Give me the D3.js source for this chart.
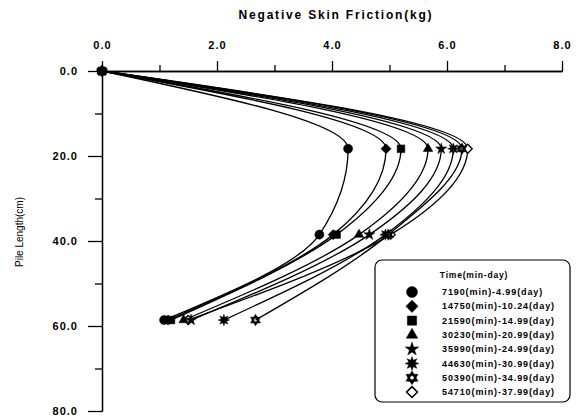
<!DOCTYPE html>
<html>
<head>
<meta charset="utf-8">
<script src="https://cdn.jsdelivr.net/npm/d3@7"></script>
<style>
	body { margin: 0; background: #fff; }
	.axis path, .axis line { stroke: #000; stroke-width: 1.3px; }
	.axis text { font-family: 'Liberation Sans', Arial, sans-serif; font-weight: bold; font-size: 11px; letter-spacing: 1px; fill: #000; }
</style>
</head>
<body>
<div class="chart"></div>
<script>
// Pile depth (cm) where friction was measured
var depths = [0, 18.3, 38.5, 58.6];

// Negative skin friction (kg) at each depth, one array per elapsed time
var f7190 = [0, 4.28, 3.78, 1.08];
var f14750 = [0, 4.94, 4.02, 1.15];
var f21590 = [0, 5.20, 4.08, 1.20];
var f30230 = [0, 5.67, 4.47, 1.42];
var f35990 = [0, 5.90, 4.65, 1.55];
var f44630 = [0, 6.11, 4.93, 2.12];
var f50390 = [0, 6.26, 4.98, 2.67];
var f54710 = [0, 6.36, 5.02, 1.50];

var legendLabels = ['7190(min)-4.99(day)', '14750(min)-10.24(day)', '21590(min)-14.99(day)',
	'30230(min)-20.99(day)', '35990(min)-24.99(day)', '44630(min)-30.99(day)',
	'50390(min)-34.99(day)', '54710(min)-37.99(day)'];

var xTicks = [0, 2, 4, 6, 8],
	xMinor = [1, 3, 5, 7],
	yTicks = [0, 20, 40, 60, 80],
	yMinor = [10, 30, 50, 70];

// Two home made markers the d3 set does not have
var symbolSparkle = {
	draw: function(context, size) {
		var r = Math.sqrt(size / 1.6), r2 = r * 0.5;
		for (var i = 0; i < 16; i++) {
			var a = i * Math.PI / 8 - Math.PI / 2,
				rr = i % 2 ? r2 : r;
			if (i === 0) context.moveTo(rr * Math.cos(a), rr * Math.sin(a));
			else context.lineTo(rr * Math.cos(a), rr * Math.sin(a));
		}
		context.closePath();
	}
};
var symbolHexagram = {
	draw: function(context, size) {
		var r = Math.sqrt(size / 1.8), r2 = r * 0.6;
		for (var i = 0; i < 12; i++) {
			var a = i * Math.PI / 6 - Math.PI / 2,
				rr = i % 2 ? r2 : r;
			if (i === 0) context.moveTo(rr * Math.cos(a), rr * Math.sin(a));
			else context.lineTo(rr * Math.cos(a), rr * Math.sin(a));
		}
		context.closePath();
		context.moveTo(r * 0.3, 0);
		context.arc(0, 0, r * 0.3, 0, 2 * Math.PI);
	}
};

// marker style per series (symbol, fill, relative size)
var markers = [
	{symbol: d3.symbolCircle, fill: '#000', k: 1},
	{symbol: d3.symbolDiamond2, fill: '#000', k: 1},
	{symbol: d3.symbolSquare, fill: '#000', k: 0.9},
	{symbol: d3.symbolTriangle, fill: '#000', k: 0.6},
	{symbol: d3.symbolStar, fill: '#000', k: 0.6},
	{symbol: symbolSparkle, fill: '#000', k: 0.8},
	{symbol: symbolHexagram, fill: '#000', k: 0.9},
	{symbol: d3.symbolDiamond2, fill: '#fff', k: 0.8}
];
var values = [f7190, f14750, f21590, f30230, f35990, f44630, f50390, f54710];

var margin = {top: 71, left: 102, bottom: 7, right: 26};
var width = 588 - margin.left - margin.right;
var height = 418 - margin.top - margin.bottom;
var x = d3.scaleLinear().domain([0, 8]).range([0, width]);
var y = d3.scaleLinear().domain([0, 80]).range([0, height]);

var svg = d3.select('.chart').append('svg')
	.attr('width', 588)
	.attr('height', 418)
	.attr('font-family', "'Liberation Sans', Arial, sans-serif");

svg.append('text')
	.attr('x', 336)
	.attr('y', 19)
	.attr('text-anchor', 'middle')
	.attr('font-size', '12px')
	.attr('font-weight', 'bold')
	.attr('letter-spacing', '1.8px')
	.text('Negative Skin Friction(kg)');

svg.append('text')
	.attr('transform', 'translate(23,232) rotate(-90)')
	.attr('text-anchor', 'middle')
	.attr('font-size', '10px')
	.text('Pile Length(cm)');

var g = svg.append('g')
	.attr('transform', 'translate(' + margin.left + ',' + margin.top + ')');

// Axes: the x axis is on top, depth grows downwards
g.append('g')
	.attr('class', 'axis')
	.call(d3.axisTop(x).tickValues(xTicks).tickSize(10).tickSizeOuter(0).tickPadding(12)
		.tickFormat(d3.format('.1f')));
g.append('g')
	.attr('class', 'axis')
	.call(d3.axisTop(x).tickValues(xMinor).tickSize(6).tickSizeOuter(0).tickFormat(''));
g.append('g')
	.attr('class', 'axis')
	.call(d3.axisLeft(y).tickValues(yTicks).tickSize(14).tickSizeOuter(0).tickPadding(10)
		.tickFormat(d3.format('.1f')));
g.append('g')
	.attr('class', 'axis')
	.call(d3.axisLeft(y).tickValues(yMinor).tickSize(7).tickSizeOuter(0).tickFormat(''));

var line = d3.line()
	.x(function(d) { return x(d.f); })
	.y(function(d) { return y(d.z); })
	.curve(d3.curveMonotoneY);

var series = values.map(function(v) {
	return v.map(function(f, i) { return {z: depths[i], f: f}; });
});

series.forEach(function(pts) {
	g.append('path')
		.datum(pts)
		.attr('fill', 'none')
		.attr('stroke', '#000')
		.attr('stroke-width', 1.3)
		.attr('d', line);
});

// markers, last series first so the filled circle sits on top at the origin
for (var j = series.length - 1; j >= 0; j--) {
	var m = markers[j];
	g.selectAll(null)
		.data(series[j])
		.enter().append('path')
		.attr('transform', function(d) { return 'translate(' + x(d.f) + ',' + y(d.z) + ')'; })
		.attr('d', d3.symbol().type(m.symbol).size(65 * m.k))
		.attr('fill', m.fill)
		.attr('fill-rule', 'evenodd')
		.attr('stroke', '#000')
		.attr('stroke-width', m.fill === '#fff' ? 1.3 : 0.5);
}

// Legend box
var legend = svg.append('g').attr('transform', 'translate(375,260)');
legend.append('rect')
	.attr('width', 195)
	.attr('height', 142)
	.attr('rx', 7)
	.attr('fill', '#fff')
	.attr('stroke', '#000')
	.attr('stroke-width', 1.2);
legend.append('text')
	.attr('x', 99)
	.attr('y', 18)
	.attr('text-anchor', 'middle')
	.attr('font-size', '8.5px')
	.attr('font-weight', 'bold')
	.attr('letter-spacing', '0.8px')
	.text('Time(min-day)');
markers.forEach(function(m, i) {
	var ly = 32 + i * 14.3;
	legend.append('path')
		.attr('transform', 'translate(37,' + ly + ')')
		.attr('d', d3.symbol().type(m.symbol).size(95 * m.k))
		.attr('fill', m.fill)
		.attr('fill-rule', 'evenodd')
		.attr('stroke', '#000')
		.attr('stroke-width', m.fill === '#fff' ? 1.5 : 0.5);
	legend.append('text')
		.attr('x', 67)
		.attr('y', ly + 3)
		.attr('font-size', '9px')
		.attr('font-weight', 'bold')
		.attr('letter-spacing', '0.9px')
		.text(legendLabels[i]);
});
</script>
</body>
</html>
